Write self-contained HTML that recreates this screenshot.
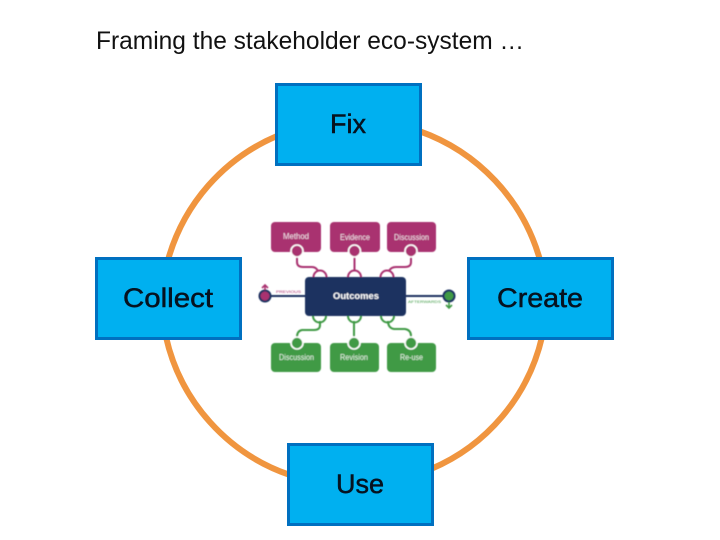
<!DOCTYPE html>
<html><head><meta charset="utf-8"><style>
html,body{margin:0;padding:0;background:#fff}
svg{display:block}
text{font-family:"Liberation Sans","DejaVu Sans",sans-serif}
</style></head><body>
<svg width="720" height="540" viewBox="0 0 720 540" xmlns="http://www.w3.org/2000/svg">
<defs><filter id="b" x="-5%" y="-5%" width="110%" height="110%"><feGaussianBlur stdDeviation="0.45"/></filter></defs>
<rect width="720" height="540" fill="#fff"/>
<text x="96" y="49" font-size="25" fill="#111" textLength="428" lengthAdjust="spacingAndGlyphs">Framing the stakeholder eco-system …</text>
<g fill="none" stroke="#F0953F" stroke-width="6">
<path d="M168 260A190 190 0 0 1 277 136"/>
<path d="M419 131A192 192 0 0 1 540 260"/>
<path d="M166 337A190 190 0 0 0 290 475"/>
<path d="M431 469A190 190 0 0 0 542 337"/>
</g>
<g stroke="#0070C0" stroke-width="3" fill="#00B0F0">
<rect x="276.5" y="84.5" width="144" height="80"/>
<rect x="96.5" y="258.5" width="144" height="80"/>
<rect x="468.5" y="258.5" width="144" height="80"/>
<rect x="288.5" y="444.5" width="144" height="80"/>
</g>
<g font-size="27" fill="#06121f" stroke="#06121f" stroke-width="0.5" lengthAdjust="spacingAndGlyphs">
<text x="330" y="133" textLength="36" lengthAdjust="spacingAndGlyphs">Fix</text>
<text x="123" y="307" textLength="90" lengthAdjust="spacingAndGlyphs">Collect</text>
<text x="497" y="307" textLength="86" lengthAdjust="spacingAndGlyphs">Create</text>
<text x="336" y="493" textLength="48" lengthAdjust="spacingAndGlyphs">Use</text>
</g>
<g filter="url(#b)">
<g fill="none" stroke="#A9326F" stroke-width="2">
<path d="M297 250V262Q297 267 303 267H312Q316 267 318 271"/>
<path d="M354.500 250V271"/>
<path d="M411 250V262Q411 267 405 267H396Q391 267 389 271"/>
<path d="M313.500 277a6.500 6.500 0 0 1 13 0M348 277a6.500 6.500 0 0 1 13 0M380.500 277a6.500 6.500 0 0 1 13 0"/>
</g>
<g fill="none" stroke="#3F9A45" stroke-width="2">
<path d="M320 321V325Q320 330 314 330H302Q297 331 297 337V342"/>
<path d="M354 321V342"/>
<path d="M388 321Q388 328 394 329H405Q411 330 411 336V342"/>
<path d="M313 316a6.500 6.500 0 0 0 13 0M348 316a6.500 6.500 0 0 0 13 0M381 316a6.500 6.500 0 0 0 13 0"/>
</g>
<g fill="#A9326F">
<rect x="271" y="222" width="50" height="30" rx="4"/>
<rect x="330" y="222" width="50" height="30" rx="4"/>
<rect x="387" y="222" width="49" height="30" rx="4"/>
</g>
<g fill="#3F9A45">
<rect x="271" y="343" width="50" height="29" rx="4"/>
<rect x="330" y="343" width="49" height="29" rx="4"/>
<rect x="387" y="343" width="49" height="29" rx="4"/>
</g>
<g fill="#A9326F" stroke="#fff" stroke-width="1.600">
<circle cx="297" cy="251" r="6"/><circle cx="354.500" cy="251" r="6"/><circle cx="411" cy="251" r="6"/>
</g>
<g fill="#3F9A45" stroke="#fff" stroke-width="1.600">
<circle cx="297" cy="343" r="6"/><circle cx="354" cy="343" r="6"/><circle cx="411" cy="343" r="6"/>
</g>
<path d="M265 296H305M406 296H449" stroke="#1B3160" stroke-width="2"/>
<rect x="305" y="277" width="101" height="39" rx="4" fill="#1B3160"/>
<circle cx="265" cy="296" r="5.500" fill="#A9326F" stroke="#1B3160" stroke-width="2"/>
<circle cx="449" cy="296" r="5.500" fill="#3F9A45" stroke="#1B3160" stroke-width="2"/>
<path d="M265 290V285M262 288l3-3 3 3" fill="none" stroke="#A9326F" stroke-width="1.600"/>
<path d="M449 302V308M446 305l3 3 3-3" fill="none" stroke="#3F9A45" stroke-width="1.600"/>
<g font-size="8" fill="#f3e3ec">
<text x="283" y="239" textLength="26" lengthAdjust="spacingAndGlyphs">Method</text>
<text x="340" y="240" textLength="30" lengthAdjust="spacingAndGlyphs">Evidence</text>
<text x="394" y="240" textLength="35" lengthAdjust="spacingAndGlyphs">Discussion</text>
</g>
<g font-size="8" fill="#e6f3e6">
<text x="279" y="360" textLength="35" lengthAdjust="spacingAndGlyphs">Discussion</text>
<text x="340" y="360" textLength="28" lengthAdjust="spacingAndGlyphs">Revision</text>
<text x="400" y="360" textLength="23" lengthAdjust="spacingAndGlyphs">Re-use</text>
</g>
<text x="333" y="299" font-size="9" font-weight="700" fill="#fff" textLength="46" lengthAdjust="spacingAndGlyphs">Outcomes</text>
<text x="276" y="293" font-size="4" fill="#A9326F" textLength="25" lengthAdjust="spacingAndGlyphs">PREVIOUS</text>
<text x="408" y="303" font-size="4" fill="#3F9A45" textLength="33" lengthAdjust="spacingAndGlyphs">AFTERWARDS</text>
</g>
</svg>
</body></html>
